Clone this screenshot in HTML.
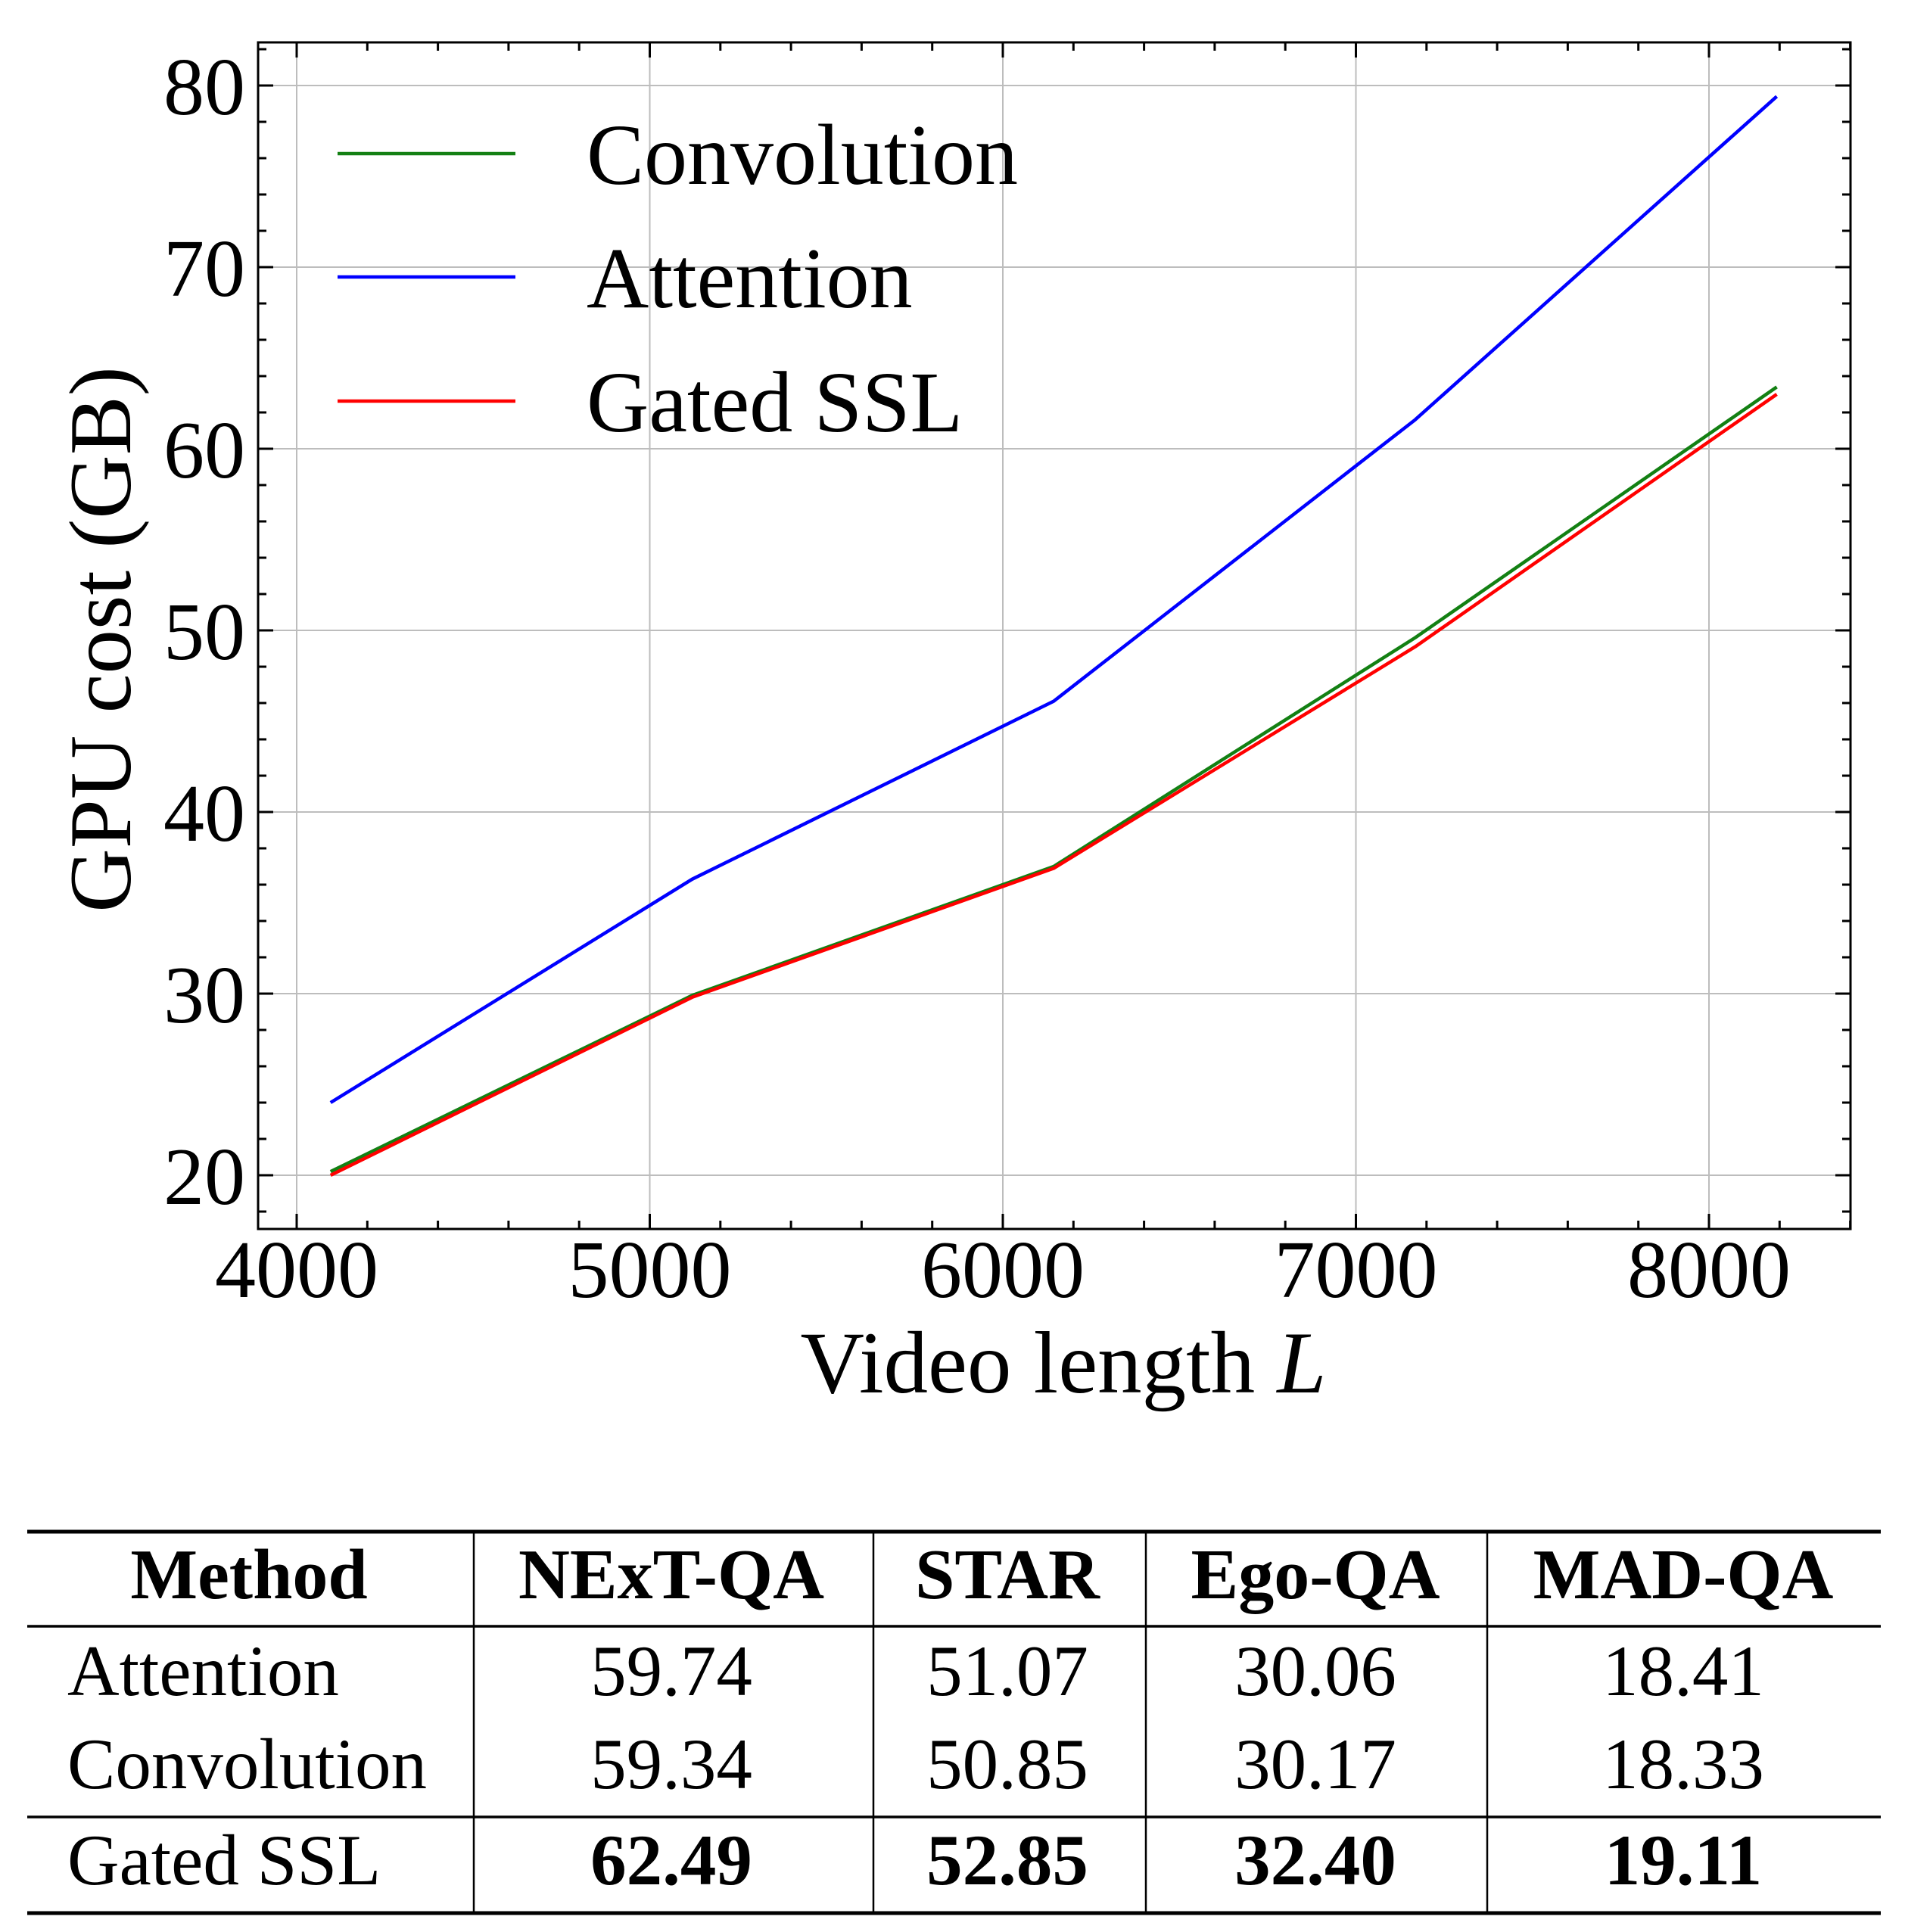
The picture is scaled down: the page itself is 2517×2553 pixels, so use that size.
<!DOCTYPE html>
<html><head><meta charset="utf-8"><style>
html,body{margin:0;padding:0;background:#fff;}
svg{display:block;font-family:"Liberation Serif",serif;}
</style></head><body>
<svg id="chart" width="2517" height="2553" viewBox="0 0 2517 2553">
<g id="plot"></g>
<g id="table"></g>
</svg>
<script>
const xValues = [4096, 5120, 6144, 7168, 8192];
const convolution = [20.2, 29.9, 37.0, 49.6, 63.4];
const attention = [24.0, 36.3, 46.1, 61.6, 79.4];
const gatedSSL = [20.0, 29.8, 36.9, 49.1, 63.0];
const xTicks = [4000, 5000, 6000, 7000, 8000];
const yTicks = [20, 30, 40, 50, 60, 70, 80];
const seriesNames = ["Convolution", "Attention", "Gated SSL"];
const tableHeader = ["Method", "NExT-QA", "STAR", "Ego-QA", "MAD-QA"];
const tableRows = [
  ["Attention", "59.74", "51.07", "30.06", "18.41"],
  ["Convolution", "59.34", "50.85", "30.17", "18.33"],
  ["Gated SSL", "62.49", "52.85", "32.40", "19.11"]
];

const NS = "http://www.w3.org/2000/svg";
const L = 341, R = 2445, T = 56, B = 1624;
const xs = v => 392 + (v - 4000) * 0.4665;
const ys = v => 1553 - (v - 20) * 24.0;
function mk(tag, attrs, parent, text) {
  const e = document.createElementNS(NS, tag);
  for (const k in attrs) e.setAttribute(k, attrs[k]);
  if (text !== undefined) e.textContent = text;
  parent.appendChild(e);
  return e;
}
const plot = document.getElementById('plot');

xTicks.forEach(v => {
  const g = mk('line', {x1: xs(v), x2: xs(v), y1: T, y2: B, stroke: '#bdbdbd', 'stroke-width': 2}, plot);
  
  
});
yTicks.forEach(v => {
  const g = mk('line', {x1: L, x2: R, y1: ys(v), y2: ys(v), stroke: '#bdbdbd', 'stroke-width': 2}, plot);
  
  
});

for (let v = 3800; v <= 8400; v += 200) {
  const x = xs(v);
  if (x < L || x > R) continue;
  const major = v % 1000 === 0;
  const len = major ? 20 : 11;
  const t1 = mk('line', {x1: x, x2: x, y1: B, y2: B - len, stroke: '#000', 'stroke-width': 3}, plot);
  
  
  const t2 = mk('line', {x1: x, x2: x, y1: T, y2: T + len, stroke: '#000', 'stroke-width': 3}, plot);
  
  
}
for (let v = 16; v <= 84; v += 2) {
  const y = ys(v);
  if (y < T || y > B) continue;
  const major = v % 10 === 0;
  const len = major ? 20 : 11;
  const t1 = mk('line', {x1: L, x2: L + len, y1: y, y2: y, stroke: '#000', 'stroke-width': 3}, plot);
  
  
  const t2 = mk('line', {x1: R, x2: R - len, y1: y, y2: y, stroke: '#000', 'stroke-width': 3}, plot);
  
  
}

const seriesData = [convolution, attention, gatedSSL];
const colors = ['#138013', '#0000ff', '#ff0000'];
[1, 0, 2].forEach(i => {
  const pts = xValues.map((x, j) => xs(x) + ',' + ys(seriesData[i][j])).join(' ');
  const pl = mk('polyline', {points: pts, fill: 'none', stroke: colors[i], 'stroke-width': 4.5, 'stroke-linejoin': 'round'}, plot);
  
  
});

const fr = mk('rect', {x: L, y: T, width: R - L, height: B - T, fill: 'none', stroke: '#000', 'stroke-width': 3}, plot);



xTicks.forEach(v => {
  const t = mk('text', {x: xs(v), y: 1714, 'font-size': 108, 'text-anchor': 'middle'}, plot, String(v));
  
  
});
yTicks.forEach(v => {
  const t = mk('text', {x: 324, y: ys(v) + 38, 'font-size': 108, 'text-anchor': 'end'}, plot, String(v));
  
  
});

const xt = mk('text', {x: 1405, y: 1840, 'font-size': 117, 'text-anchor': 'middle'}, plot);


mk('tspan', {}, xt, 'Video length ');
mk('tspan', {'font-style': 'italic'}, xt, 'L');
const yt = mk('text', {x: 0, y: 0, 'font-size': 117, 'text-anchor': 'middle', transform: 'translate(172,845) rotate(-90)'}, plot, 'GPU cost (GB)');



const legY = [203, 366, 530];
seriesNames.forEach((n, i) => {
  const g = mk('g', {}, plot);
  
  
  mk('line', {x1: 446, x2: 681, y1: legY[i], y2: legY[i], stroke: colors[i], 'stroke-width': 4.5}, g);
  mk('text', {x: 775, y: legY[i] + 40, 'font-size': 114}, g, n);
});

const table = document.getElementById('table');
const TL = 36, TR = 2485;
const colEdges = [36, 626, 1154, 1514, 1965, 2485];
const colCenters = [329, 887, 1331, 1738, 2224];
const rules = [[2024, 5], [2149, 3.5], [2401, 3.5], [2528, 5]];
rules.forEach(r => {
  const l = mk('line', {x1: TL, x2: TR, y1: r[0], y2: r[0], stroke: '#000', 'stroke-width': r[1]}, table);
  
  
});
colEdges.slice(1, 5).forEach(x => {
  const l = mk('line', {x1: x, x2: x, y1: 2024, y2: 2528, stroke: '#000', 'stroke-width': 2.5}, table);
  
  
});
tableHeader.forEach((h, i) => {
  const t = mk('text', {x: colCenters[i], y: 2112, 'font-size': 94, 'font-weight': 'bold', 'text-anchor': 'middle'}, table, h);
  
  
});
const rowY = [2240, 2363, 2490];
tableRows.forEach((row, r) => {
  row.forEach((c, i) => {
    const attrs = {y: rowY[r], 'font-size': 95};
    if (i === 0) { attrs.x = 89; } else { attrs.x = colCenters[i]; attrs['text-anchor'] = 'middle'; }
    if (r === 2 && i > 0) attrs['font-weight'] = 'bold';
    const t = mk('text', attrs, table, c);
    
    
  });
});
</script>
</body></html>
